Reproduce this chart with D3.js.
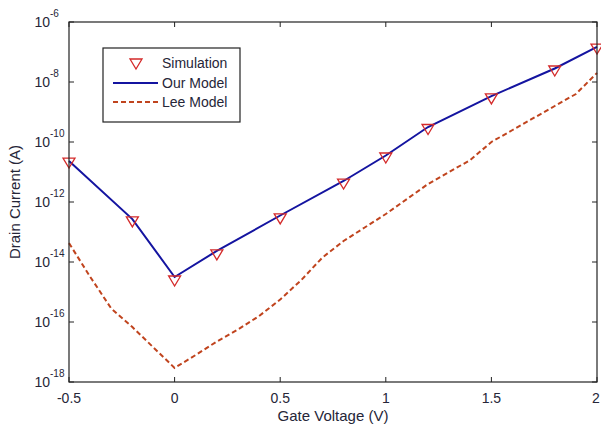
<!DOCTYPE html>
<html>
<head>
<meta charset="utf-8">
<script src="https://cdn.jsdelivr.net/npm/d3@7"></script>
<style>
    body { margin: 0; background: #fff; }
    text { font-family: "Liberation Sans", Arial, sans-serif; }
</style>
</head>
<body>
<div id="chart"></div>
<script>
// Gate voltage points for simulation and model
const simVg = [-0.5, -0.2, 0, 0.2, 0.5, 0.8, 1.0, 1.2, 1.5, 1.8, 2.0];
const simLogId = [-10.67, -12.63, -14.6, -13.73, -12.53, -11.37, -10.5, -9.55, -8.53, -7.6, -6.87];
const modelLogId = [-10.63, -12.57, -14.5, -13.63, -12.45, -11.3, -10.45, -9.5, -8.47, -7.55, -6.83];

// Lee model (dashed)
const leeVg = [-0.5, -0.4, -0.3, -0.2, -0.1, 0, 0.1, 0.2, 0.3, 0.4, 0.5, 0.6, 0.7, 0.8, 0.9, 1.0, 1.2, 1.4, 1.5, 1.6, 1.8, 1.9, 2.0];
const leeLogId = [-13.37, -14.49, -15.55, -16.17, -16.85, -17.53, -17.1, -16.65, -16.25, -15.8, -15.25, -14.6, -13.85, -13.3, -12.85, -12.4, -11.4, -10.6, -10.0, -9.6, -8.8, -8.4, -7.7];

const xTicks = [-0.5, 0, 0.5, 1, 1.5, 2];
const yTickExps = [-6, -8, -10, -12, -14, -16, -18];
const legendLabels = ["Simulation", "Our Model", "Lee Model"];

const width = 601, height = 430;
const margin = { left: 69, right: 4, top: 22, bottom: 48 };

const svg = d3.select("#chart").append("svg")
    .attr("width", width)
    .attr("height", height);

const x = d3.scaleLinear().domain([-0.5, 2]).range([margin.left, width - margin.right]);
const y = d3.scaleLog().domain([1e-18, 1e-6]).range([height - margin.bottom, margin.top]);

const textColor = "#262638";
const blue = "#1414a0";
const lee = "#c0441e";
const simRed = "#d42a2a";

const line = d3.line().x(d => x(d[0])).y(d => y(Math.pow(10, d[1])));

// Lee model dashed curve
svg.append("path")
    .datum(leeVg.map((v, i) => [v, leeLogId[i]]))
    .attr("d", line)
    .attr("fill", "none")
    .attr("stroke", lee)
    .attr("stroke-width", 2)
    .attr("stroke-dasharray", "5,3");

// Our model
svg.append("path")
    .datum(simVg.map((v, i) => [v, modelLogId[i]]))
    .attr("d", line)
    .attr("fill", "none")
    .attr("stroke", blue)
    .attr("stroke-width", 2);

// Simulation markers (downward triangles)
function triPath(cx, cy) {
    return `M${cx - 6},${cy - 4} L${cx + 6},${cy - 4} L${cx},${cy + 6} Z`;
}
svg.selectAll(".sim")
    .data(simVg.map((v, i) => [v, simLogId[i]]))
    .enter()
    .append("path")
    .attr("class", "sim")
    .attr("d", d => triPath(x(d[0]), y(Math.pow(10, d[1]))))
    .attr("fill", "none")
    .attr("stroke", simRed)
    .attr("stroke-width", 1.3);

// Box
const x0 = x.range()[0], x1 = x.range()[1];
const y0 = y.range()[0], y1 = y.range()[1];
svg.append("rect")
    .attr("x", x0).attr("y", y1)
    .attr("width", x1 - x0).attr("height", y0 - y1)
    .attr("fill", "none")
    .attr("stroke", "#222")
    .attr("stroke-width", 1.2);

// Ticks (inward, all sides)
const tickLen = 5;
xTicks.forEach(t => {
    svg.append("line").attr("x1", x(t)).attr("x2", x(t)).attr("y1", y0).attr("y2", y0 - tickLen).attr("stroke", "#222");
    svg.append("line").attr("x1", x(t)).attr("x2", x(t)).attr("y1", y1).attr("y2", y1 + tickLen).attr("stroke", "#222");
    svg.append("text")
        .attr("x", x(t) + (t === 2 ? -1 : 0))
        .attr("y", y0 + 21)
        .attr("text-anchor", "middle")
        .attr("fill", textColor)
        .style("font-size", "14px")
        .text(t);
});

yTickExps.forEach(e => {
    const yy = y(Math.pow(10, e));
    svg.append("line").attr("x1", x0).attr("x2", x0 + tickLen).attr("y1", yy).attr("y2", yy).attr("stroke", "#222");
    svg.append("line").attr("x1", x1).attr("x2", x1 - tickLen).attr("y1", yy).attr("y2", yy).attr("stroke", "#222");
    svg.append("text")
        .attr("x", 50)
        .attr("y", yy + 5)
        .attr("text-anchor", "end")
        .attr("fill", textColor)
        .style("font-size", "14px")
        .text("10");
    svg.append("text")
        .attr("x", 50)
        .attr("y", yy - 5)
        .attr("fill", textColor)
        .style("font-size", "10px")
        .text(e);
});

// Axis labels
svg.append("text")
    .attr("x", x(0.75))
    .attr("y", height - 9)
    .attr("text-anchor", "middle")
    .attr("fill", textColor)
    .style("font-size", "15px")
    .text("Gate Voltage (V)");

svg.append("text")
    .attr("transform", `translate(20,${(y0 + y1) / 2}) rotate(-90)`)
    .attr("text-anchor", "middle")
    .attr("fill", textColor)
    .style("font-size", "15px")
    .text("Drain Current (A)");

// Legend
const legend = svg.append("g").attr("transform", "translate(103,48)");
legend.append("rect")
    .attr("width", 137).attr("height", 74)
    .attr("fill", "#fff")
    .attr("stroke", "#222")
    .attr("stroke-width", 1.2);

const rowY = [15, 35, 54];
legend.append("path")
    .attr("d", triPath(33, rowY[0]))
    .attr("fill", "none")
    .attr("stroke", simRed)
    .attr("stroke-width", 1.3);
legend.append("line")
    .attr("x1", 10).attr("x2", 55).attr("y1", rowY[1]).attr("y2", rowY[1])
    .attr("stroke", blue).attr("stroke-width", 2);
legend.append("line")
    .attr("x1", 10).attr("x2", 55).attr("y1", rowY[2]).attr("y2", rowY[2])
    .attr("stroke", lee).attr("stroke-width", 2).attr("stroke-dasharray", "5,3");

legend.selectAll(".lab")
    .data(legendLabels)
    .enter()
    .append("text")
    .attr("x", 59)
    .attr("y", (d, i) => rowY[i] + 5)
    .attr("fill", textColor)
    .style("font-size", "14px")
    .text(d => d);
</script>
</body>
</html>
